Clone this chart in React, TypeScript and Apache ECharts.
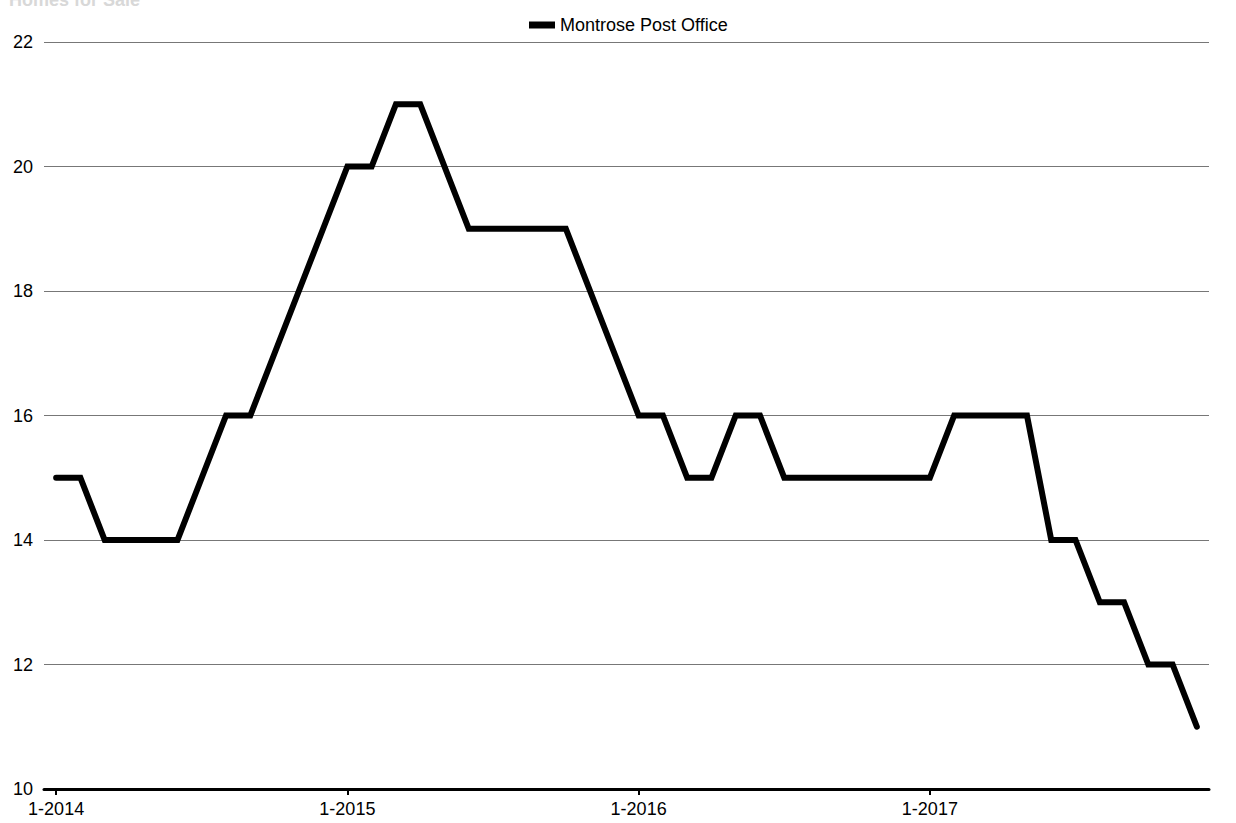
import React, { useEffect, useRef } from "react";
import * as echarts from "echarts";

const years = [2014, 2015, 2016, 2017];
const months = [1, 2, 3, 4, 5, 6, 7, 8, 9, 10, 11, 12];
const categories: string[] = [];
years.forEach((y) => months.forEach((m) => categories.push(`${m}-${y}`)));

const seriesName = "Montrose Post Office";
const values2014 = [15, 15, 14, 14, 14, 14, 15, 16, 16, 17, 18, 19];
const values2015 = [20, 20, 21, 21, 20, 19, 19, 19, 19, 19, 18, 17];
const values2016 = [16, 16, 15, 15, 16, 16, 15, 15, 15, 15, 15, 15];
const values2017 = [15, 16, 16, 16, 16, 14, 14, 13, 13, 12, 12, 11];
const values = [...values2014, ...values2015, ...values2016, ...values2017];

const yMin = 10;
const yMax = 22;
const yStep = 2;

export default function App() {
  const ref = useRef<HTMLDivElement>(null);
  useEffect(() => {
    if (!ref.current) return;
    const chart = echarts.init(ref.current, null, { renderer: "svg" });
    const font = "'Liberation Sans', Arial, sans-serif";
    chart.setOption({
      animation: false,
      backgroundColor: "#ffffff",
      textStyle: { fontFamily: font },
      title: {
        text: "Homes for Sale",
        left: 4,
        top: -14,
        textStyle: { color: "#d8d8d8", fontSize: 18, fontWeight: "bold", fontFamily: font },
      },
      legend: {
        data: [seriesName],
        top: 11,
        left: 524,
        itemWidth: 26,
        itemHeight: 7,
        itemGap: 8,
        icon: "rect",
        textStyle: { color: "#000", fontSize: 18, fontFamily: font },
      },
      grid: { left: 44, right: 27, top: 42, bottom: 34 },
      xAxis: {
        type: "category",
        data: categories,
        boundaryGap: true,
        axisLine: { show: true, lineStyle: { color: "#000", width: 3 } },
        axisTick: {
          show: true,
          alignWithLabel: true,
          length: 6,
          interval: (i: number) => i % 12 === 0,
          lineStyle: { color: "#000", width: 2 },
        },
        axisLabel: {
          interval: (i: number) => i % 12 === 0,
          color: "#000",
          fontSize: 18,
          fontFamily: font,
          margin: 11,
        },
        splitLine: { show: false },
      },
      yAxis: {
        type: "value",
        min: yMin,
        max: yMax,
        interval: yStep,
        axisLine: { show: false },
        axisTick: { show: false },
        axisLabel: { color: "#000", fontSize: 18, fontFamily: font, margin: 11 },
        splitLine: { show: true, lineStyle: { color: "#777", width: 1 } },
      },
      series: [
        {
          name: seriesName,
          type: "line",
          data: values,
          showSymbol: false,
          symbol: "none",
          itemStyle: { color: "#000" },
          lineStyle: { color: "#000", width: 6, cap: "round", join: "miter" },
        },
      ],
    });
    return () => chart.dispose();
  }, []);
  return (
    <div
      ref={ref}
      style={{ position: "fixed", left: 0, top: 0, width: 1236, height: 823 }}
    />
  );
}
